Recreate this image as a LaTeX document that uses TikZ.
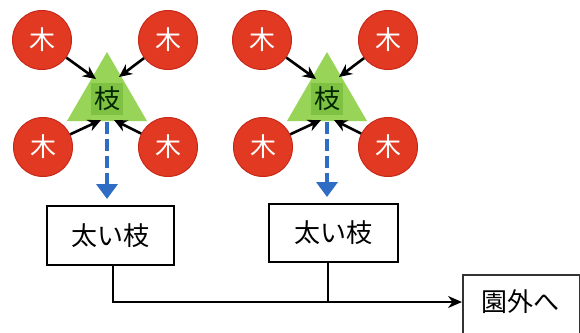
\documentclass[tikz,border=0pt]{standalone}
\usepackage{fontspec}
\setmainfont{Noto Sans CJK JP}
\usetikzlibrary{arrows.meta}
\definecolor{treered}{HTML}{E23A22}
\definecolor{treeedge}{HTML}{C8281A}
\definecolor{branchgreen}{HTML}{98D458}
\definecolor{branchdark}{HTML}{7FC143}
\definecolor{flowblue}{HTML}{2F6CC4}
\tikzset{
  bigtext/.style={font=\fontsize{26}{26}\selectfont},
  tree/.style={circle, fill=treered, draw=treeedge, line width=1pt, minimum size=59pt, inner sep=0pt, text=white, bigtext},
  branch/.style={bigtext, fill=branchdark, minimum size=32pt, inner sep=0pt, text=black!85!green},
  feed/.style={line width=2.6pt, -{Stealth[length=13pt,width=12pt]}},
  down/.style={flowblue, line width=4.5pt, dash pattern=on 12pt off 5pt, -{Triangle[length=15pt,width=21pt]}},
  box/.style={draw, line width=1.8pt, fill=white, bigtext},
  link/.style={line width=2pt}
}
\begin{document}
\begin{tikzpicture}[x=1pt,y=-1pt]
\useasboundingbox (0,0) rectangle (580,332);
\clip (0,0) rectangle (580,332);
\fill[white] (0,0) rectangle (580,332);
% group 1
\fill[branchgreen] (107,52) -- (147,121) -- (67,121) -- cycle;
\node[branch] (b1) at (107,99) {枝};
\coordinate (b1tl) at (96,79);
\coordinate (b1tr) at (119,77);
\coordinate (b1bl) at (101,120);
\coordinate (b1br) at (114,120);
\coordinate (b1base) at (107,122);
\coordinate (b1tip) at (107,199);
\node[tree] (t1a) at (42,40) {木};
\node[tree] (t1b) at (168,40) {木};
\node[tree] (t1c) at (43,147) {木};
\node[tree] (t1d) at (168,147) {木};
\draw[feed] (t1a) -- (b1tl);
\draw[feed] (t1b) -- (b1tr);
\draw[feed] (t1c) -- (b1bl);
\draw[feed] (t1d) -- (b1br);
% group 2
\fill[branchgreen] (327,52) -- (367,121) -- (287,121) -- cycle;
\node[branch] (b2) at (327,99) {枝};
\coordinate (b2tl) at (316,79);
\coordinate (b2tr) at (339,77);
\coordinate (b2bl) at (321,120);
\coordinate (b2br) at (334,120);
\coordinate (b2base) at (327,122);
\coordinate (b2tip) at (327,197);
\node[tree] (t2a) at (262,40) {木};
\node[tree] (t2b) at (388,40) {木};
\node[tree] (t2c) at (263,147) {木};
\node[tree] (t2d) at (388,147) {木};
\draw[feed] (t2a) -- (b2tl);
\draw[feed] (t2b) -- (b2tr);
\draw[feed] (t2c) -- (b2bl);
\draw[feed] (t2d) -- (b2br);
% boxes
\node[box, minimum width=127pt, minimum height=59pt] (f1) at (110.5,235.5) {太い枝};
\node[box, minimum width=129pt, minimum height=58pt] (f2) at (333.5,233) {太い枝};
\node[box, draw=black!80, minimum width=117pt, minimum height=70pt, anchor=north west] (out) at (462,274) {};
\node[bigtext, anchor=center] (outtxt) at (520,302) {園外へ};
\draw[down] (b1base) -- (b1tip);
\draw[down] (b2base) -- (b2tip);
\coordinate (j1) at (113,302);
\coordinate (j2) at (328,302);
\coordinate (f1b) at (113,265);
\coordinate (f2b) at (328,262);
\draw[link] (f1b) -- (j1) -- (j2);
\draw[link] (f2b) -- (j2);
\draw[link, -{Stealth[length=14pt,width=12pt]}] (j2) -- (out.west |- j2);
\end{tikzpicture}
\end{document}
